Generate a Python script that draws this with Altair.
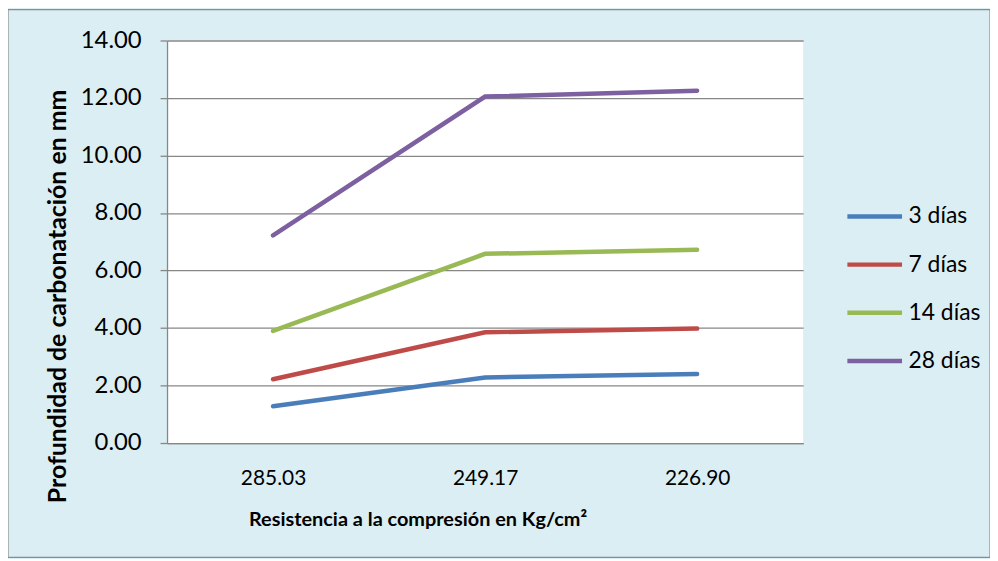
import altair as alt
import pandas as pd

categories = ["285.03", "249.17", "226.90"]
series = ["3 días", "7 días", "14 días", "28 días"]
v3 = [1.28, 2.28, 2.40]
v7 = [2.22, 3.85, 3.98]
v14 = [3.90, 6.58, 6.72]
v28 = [7.22, 12.05, 12.25]
colors = ["#4A7EBB", "#BE4B48", "#98B954", "#7D60A0"]

rows = []
for s, vals in zip(series, [v3, v7, v14, v28]):
    for c, v in zip(categories, vals):
        rows.append({"Resistencia": c, "Serie": s, "Valor": v})
df = pd.DataFrame(rows)

FONT = "Lato"
W, H = 640, 405

lines = alt.Chart(df).mark_line(strokeWidth=4.5, strokeCap="round").encode(
    x=alt.X("Resistencia:N", sort=categories,
            scale=alt.Scale(type="point", padding=0.5),
            axis=alt.Axis(title="Resistencia a la compresión en Kg/cm²", labelAngle=0,
                          ticks=False, labelPadding=25, labelFontSize=21,
                          titleFontSize=20, titleX=252, titleY=77,
                          titleBaseline="middle", grid=False)),
    y=alt.Y("Valor:Q", scale=alt.Scale(domain=[0, 14], nice=False),
            axis=alt.Axis(title="Profundidad de carbonatación en mm", values=[0, 2, 4, 6, 8, 10, 12, 14],
                          format=".2f", tickSize=7, labelPadding=19, labelFontSize=24,
                          titleFontSize=25, titlePadding=10, titleY=257)),
    color=alt.Color("Serie:N", sort=series,
                    scale=alt.Scale(domain=series, range=colors),
                    legend=alt.Legend(title=None, orient="none", legendX=682, legendY=147,
                                      symbolType="stroke", symbolStrokeWidth=4.5,
                                      symbolSize=3025, labelFontSize=23, labelFont=FONT,
                                      labelColor="#000000", rowPadding=6.5, labelOffset=4)),
)

border = alt.Chart(pd.DataFrame({"a": [0]})).mark_rect(
    fill=None, stroke="#8C8C8C", strokeWidth=1.2, clip=False
).encode(
    x=alt.value(-160), x2=alt.value(W + 188),
    y=alt.value(-31), y2=alt.value(H + 115),
)

chart = alt.layer(border, lines).properties(
    width=W, height=H,
    autosize=alt.AutoSizeParams(type="none"),
    padding={"left": 160, "top": 31, "right": 188, "bottom": 115},
    background="#DBEEF3",
).configure_view(
    fill="#FFFFFF", stroke=None
).configure_axis(
    labelFont=FONT, titleFont=FONT,
    labelColor="#000000", titleColor="#000000", titleFontWeight="bold",
    gridColor="#878787", gridWidth=1.3, domainColor="#878787", domainWidth=1.3,
    tickColor="#878787", tickWidth=1.3,
)

chart.save("out.html", embed_options={"renderer": "svg", "actions": False})
